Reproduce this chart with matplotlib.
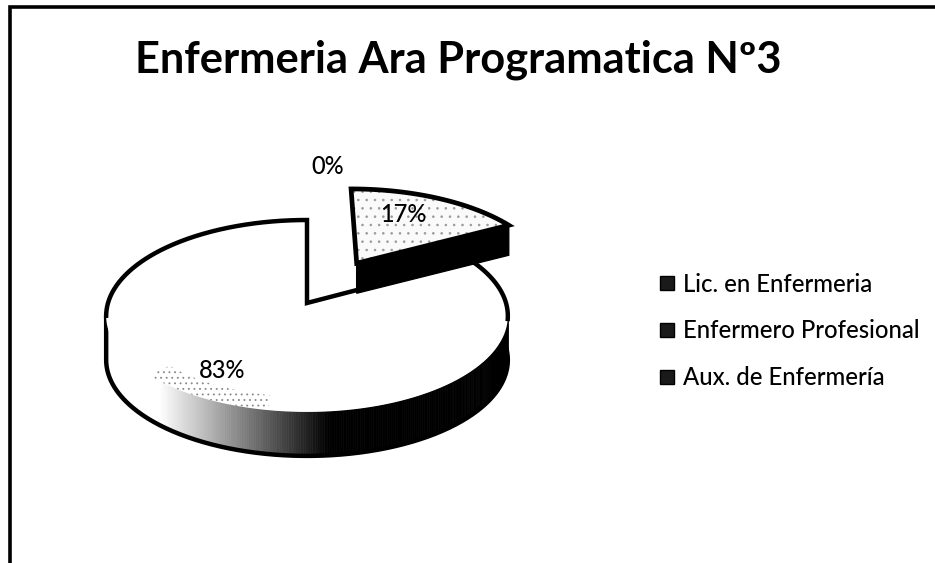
import numpy as np
import matplotlib
matplotlib.use('Agg')
import matplotlib.pyplot as plt
from matplotlib.patches import Polygon
from matplotlib.lines import Line2D

plt.rcParams['font.family'] = ['Lato', 'DejaVu Sans']
plt.rcParams['hatch.linewidth'] = 0.6

title = 'Enfermeria Ara Programatica Nº3'
categories = ['Lic. en Enfermeria', 'Enfermero Profesional', 'Aux. de Enfermería']
shares = [17, 83, 0]
explode = [0.52, 0, 0]

# pie projection, pixels of the picture
cx, cy = 307, 303
rx, ry = 199, 94.2
persp = 0.135


def project(u, v):
    k = 1 + persp * v
    return cx + rx * u / k, cy - ry * v / k


def front_shade(x):
    # white wall on the left going to black past the middle
    g = np.clip((330 - x) / 170, 0, 1)
    return str(round(float(g), 3))


def draw_main(ax, a0, a1, depth):
    t = np.radians(np.linspace(a0, a1, 500))
    x, y = project(np.sin(t), np.cos(t))
    ax0, ay0 = project(0, 0)
    left = np.argmin(x)

    # outer wall, only the part turned to the viewer
    front = (np.cos(t) < 0.12) & (t <= t[left])
    for i in np.where(front[:-1])[0]:
        col = front_shade(x[i])
        ax.add_patch(Polygon([[x[i], y[i]], [x[i + 1], y[i + 1]],
                              [x[i + 1], y[i + 1] + depth], [x[i], y[i] + depth]],
                             fc=col, ec=col, lw=0.5, zorder=2))
    ax.plot(np.r_[x[front], x[left]], np.r_[y[front] + depth, y[left]], color='black', lw=3.2,
            solid_joinstyle='round', zorder=3)

    ax.add_patch(Polygon(np.c_[np.r_[ax0, x], np.r_[ay0, y]], closed=True, fc='white', ec='none', zorder=4))

    # speckle on the front of the top face
    tb = np.radians(np.linspace(190, 226, 40))
    bx0, by0 = project(np.sin(tb), np.cos(tb))
    bx1, by1 = project(0.88 * np.sin(tb[::-1]), 0.88 * np.cos(tb[::-1]))
    ax.add_patch(Polygon(np.c_[np.r_[bx0, bx1], np.r_[by0, by1]], closed=True, fc='none', ec='#888888',
                         hatch='...', lw=0, zorder=4))

    # outline, back of the rim and the two cut edges
    back_r = t < np.radians(100)
    back_l = t >= t[left]
    ax.plot(x[back_r], y[back_r], color='black', lw=3.2, zorder=5)
    ax.plot(np.r_[x[back_l], ax0, x[0]], np.r_[y[back_l], ay0, y[0]], color='black', lw=3.2,
            solid_joinstyle='miter', zorder=5)


def draw_exploded(ax, a0, a1, off, depth):
    mid = np.radians((a0 + a1) / 2)
    ou, ov = off * np.sin(mid), off * np.cos(mid)
    t = np.radians(np.linspace(a0, a1, 120))
    x, y = project(ou + np.sin(t), ov + np.cos(t))
    ax0, ay0 = project(ou, ov)

    # wall of the cut edge facing the viewer
    ax.add_patch(Polygon([[ax0, ay0], [x[-1], y[-1]], [x[-1], y[-1] + depth], [ax0, ay0 + depth]],
                         fc='black', ec='black', lw=1, zorder=6))
    px, py = np.r_[ax0, x], np.r_[ay0, y]
    ax.add_patch(Polygon(np.c_[px, py], closed=True, fc='#fafafa', ec='none', zorder=7))
    ax.add_patch(Polygon(np.c_[px, py], closed=True, fc='none', ec='#999999', hatch='..', lw=0, zorder=7))
    ax.add_patch(Polygon(np.c_[px, py], closed=True, fc='none', ec='black', lw=3.4, joinstyle='miter', zorder=8))


fig = plt.figure(figsize=(9.35, 5.63), dpi=100)
ax = fig.add_axes([0, 0, 1, 1])
ax.set_xlim(0, 935)
ax.set_ylim(563, 0)
ax.axis('off')

# frame shows only on the top and the left
ax.plot([10, 10, 935], [563, 7, 7], color='black', lw=2.6, solid_joinstyle='miter', zorder=1)

ax.text(458, 60, title, ha='center', va='center', fontsize=31.2, fontweight='bold', color='black')

# slice angles come from the shares
total = sum(shares)
a_start = 0
angles = []
for s in shares:
    a_end = a_start + 360 * s / total
    angles.append((a_start, a_end))
    a_start = a_end

draw_main(ax, angles[1][0], angles[1][1], 44)
draw_exploded(ax, angles[0][0], angles[0][1], explode[0], 30)

ax.text(403, 215, f'{shares[0]}%', ha='center', va='center', fontsize=17, fontweight='medium', zorder=9)
ax.text(222, 370, f'{shares[1]}%', ha='center', va='center', fontsize=17, fontweight='medium', zorder=9)
ax.text(328, 167, f'{shares[2]}%', ha='center', va='center', fontsize=17, fontweight='medium', zorder=9)

handles = [Line2D([], [], ls='none', marker='s', ms=9.5, mfc='#1a1a1a', mec='black', label=c)
           for c in categories]
ax.legend(handles=handles, loc='upper left', bbox_to_anchor=(648 / 935, 1 - 268 / 563),
          frameon=False, prop={'size': 17.2, 'weight': 'medium'}, labelspacing=0.99, handletextpad=0.07,
          handlelength=1.2, borderpad=0.2, borderaxespad=0)

fig.savefig('out.png', dpi=100)
